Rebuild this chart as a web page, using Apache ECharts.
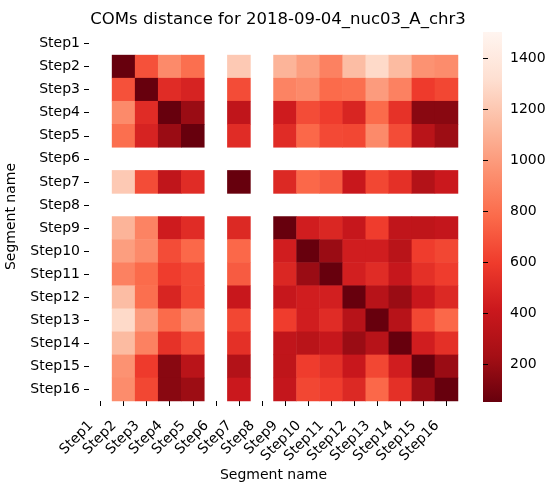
<!DOCTYPE html>
<html>
<head>
<meta charset="utf-8">
<script src="https://cdn.jsdelivr.net/npm/echarts@6/dist/echarts.min.js"></script>
<style>
	html, body { margin: 0; padding: 0; background: #fff; }
	#chart { width: 556px; height: 486px; }
</style>
</head>
<body>
<div id="chart"></div>
<script>
const steps = ['Step1', 'Step2', 'Step3', 'Step4', 'Step5', 'Step6', 'Step7', 'Step8',
	'Step9', 'Step10', 'Step11', 'Step12', 'Step13', 'Step14', 'Step15', 'Step16'];

// COM distances, row = y segment, column = x segment (null = no data)
const distances = [
	[null, null, null, null, null, null, null, null, null, null, null, null, null, null, null, null],
	[null, 51, 680, 920, 800, null, 1210, null, 1110, 1010, 880, 1150, 1290, 1140, 960, 930],
	[null, 680, 51, 520, 470, null, 660, null, 890, 920, 780, 800, 1000, 880, 590, 640],
	[null, 920, 520, 51, 200, null, 360, null, 430, 660, 600, 480, 780, 550, 150, 150],
	[null, 800, 470, 200, 51, null, 520, null, 520, 770, 650, 640, 920, 660, 330, 210],
	[null, null, null, null, null, null, null, null, null, null, null, null, null, null, null, null],
	[null, 1210, 660, 360, 520, null, 51, null, 500, 770, 720, 400, 640, 540, 300, 410],
	[null, null, null, null, null, null, null, null, null, null, null, null, null, null, null, null],
	[null, 1110, 890, 430, 520, null, 500, null, 51, 440, 490, 390, 600, 360, 355, 380],
	[null, 1010, 920, 660, 770, null, 770, null, 440, 51, 200, 440, 440, 330, 600, 640],
	[null, 880, 780, 600, 650, null, 720, null, 490, 200, 51, 450, 520, 390, 540, 600],
	[null, 1150, 800, 480, 640, null, 400, null, 390, 440, 450, 51, 320, 200, 400, 500],
	[null, 1290, 1000, 780, 920, null, 640, null, 600, 440, 520, 320, 51, 320, 640, 770],
	[null, 1140, 880, 550, 660, null, 540, null, 360, 330, 390, 200, 320, 51, 440, 540],
	[null, 960, 590, 150, 330, null, 300, null, 355, 600, 540, 400, 640, 440, 51, 200],
	[null, 930, 640, 150, 210, null, 410, null, 380, 640, 600, 500, 770, 540, 200, 51]
];

const colorbarTicks = [200, 400, 600, 800, 1000, 1200, 1400];
const valueMin = 51;
const valueMax = 1503;

// matplotlib Reds_r, low -> high
const redsReversed = ['#67000d', '#a50f15', '#cb181d', '#ef3b2c', '#fb6a4a',
	'#fc9272', '#fcbba1', '#fee0d2', '#fff5f0'];

const FONT = 'DejaVu Sans';

const cells = [];
distances.forEach((row, yi) => {
	row.forEach((v, xi) => {
		if (v !== null) {
			cells.push([xi, yi, v]);
		}
	});
});

// colorbar drawn as the background of a thin grid, bottom = low
const colorbarFill = new echarts.graphic.LinearGradient(0, 1, 0, 0,
	redsReversed.map((c, i) => ({ offset: i / (redsReversed.length - 1), color: c })));

const chart = echarts.init(document.getElementById('chart'));

chart.setOption({
	animation: false,
	title: {
		text: 'COMs distance for 2018-09-04_nuc03_A_chr3',
		left: 273,
		textAlign: 'center',
		top: 6,
		textStyle: { fontFamily: FONT, fontSize: 16.5, fontWeight: 'normal', color: '#000' }
	},
	grid: [
		{ left: 89, top: 32, width: 369, height: 369, outerBoundsMode: 'none' },
		{ left: 483, top: 32, width: 19, height: 370, outerBoundsMode: 'none', show: true, backgroundColor: colorbarFill, borderWidth: 0 }
	],
	xAxis: [
		{
			type: 'category',
			data: steps,
			gridIndex: 0,
			name: 'Segment name',
			nameLocation: 'middle',
			nameGap: 67,
			nameMoveOverlap: false,
			nameTextStyle: { fontFamily: FONT, fontSize: 14, color: '#000' },
			axisLine: { show: false },
			axisTick: { show: true, alignWithLabel: true, length: 5, lineStyle: { color: '#000' } },
			// trailing spaces so the rotated label hangs below-left of the tick, like matplotlib
			axisLabel: {
				rotate: 45, interval: 0, margin: 13,
				formatter: (v) => v + '\u00a0\u00a0\u00a0',
				fontFamily: FONT, fontSize: 14, color: '#000'
			},
			splitLine: { show: false }
		},
		{
			type: 'value',
			gridIndex: 1,
			show: false
		}
	],
	yAxis: [
		{
			type: 'category',
			data: steps,
			inverse: true,
			gridIndex: 0,
			name: 'Segment name',
			nameLocation: 'middle',
			nameGap: 71,
			nameMoveOverlap: false,
			nameTextStyle: { fontFamily: FONT, fontSize: 14, color: '#000' },
			axisLine: { show: false },
			axisTick: { show: true, alignWithLabel: true, length: 5, lineStyle: { color: '#000' } },
			axisLabel: { interval: 0, margin: 9, fontFamily: FONT, fontSize: 14, color: '#000' },
			splitLine: { show: false }
		},
		{
			type: 'value',
			gridIndex: 1,
			position: 'right',
			min: valueMin,
			max: valueMax,
			axisLine: { show: false },
			axisTick: { show: true, length: 5, customValues: colorbarTicks, lineStyle: { color: '#000' } },
			axisLabel: {
				show: true, margin: 8, customValues: colorbarTicks,
				formatter: (v) => String(v),
				fontFamily: FONT, fontSize: 14, color: '#000'
			},
			splitLine: { show: false }
		}
	],
	visualMap: {
		type: 'continuous',
		show: false,
		min: valueMin,
		max: valueMax,
		seriesIndex: 0,
		inRange: { color: redsReversed }
	},
	series: [
		{
			type: 'heatmap',
			xAxisIndex: 0,
			yAxisIndex: 0,
			data: cells,
			itemStyle: { borderWidth: 0 },
			emphasis: { disabled: true }
		}
	]
});
</script>
</body>
</html>
